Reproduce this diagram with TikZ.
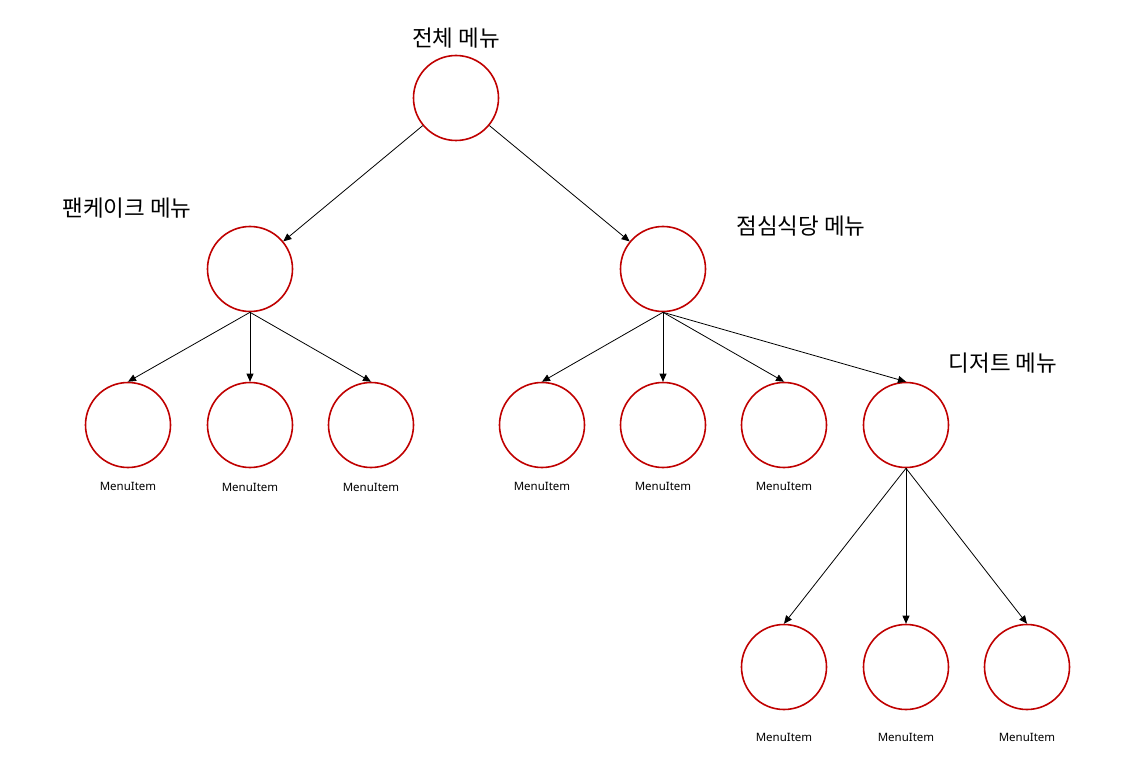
\documentclass[tikz,border=0pt]{standalone}
\usepackage{fontspec}
\setmainfont{Noto Sans}
\newfontfamily\kr{Noto Sans CJK KR}
\usetikzlibrary{arrows.meta}
\definecolor{nodered}{HTML}{C00000}
\begin{document}
\begin{tikzpicture}[x=1pt,y=-1pt,
  menunode/.style={circle,draw=nodered,line width=1.6pt,minimum size=85pt,inner sep=0pt,fill=white},
  edge/.style={draw=black,line width=0.8pt,-{Triangle[length=8pt,width=7pt]}},
  krlabel/.style={font=\kr\fontsize{22.5}{26}\selectfont},
  itemlabel/.style={font=\fontsize{11.5}{14}\selectfont}]
\useasboundingbox[fill=white] (0,0) rectangle (1125,778);
\node[menunode] (root) at (456,98) {};
\node[menunode] (pan) at (250,269) {};
\node[menunode] (lunch) at (663,269) {};
\node[menunode] (p1) at (128,425) {};
\node[menunode] (p2) at (250,425) {};
\node[menunode] (p3) at (371,425) {};
\node[menunode] (l1) at (542,425) {};
\node[menunode] (l2) at (663,425) {};
\node[menunode] (l3) at (784,425) {};
\node[menunode] (des) at (906,425) {};
\node[menunode] (d1) at (784,667) {};
\node[menunode] (d2) at (906,667) {};
\node[menunode] (d3) at (1027,667) {};
\node[krlabel] (troot) at (456,38) {전체 메뉴};
\node[krlabel] (tpan) at (127,208) {팬케이크 메뉴};
\node[krlabel] (tlunch) at (801,226) {점심식당 메뉴};
\node[krlabel] (tdes) at (1003,363) {디저트 메뉴};
\node[itemlabel] (ip1) at (128,486) {MenuItem};
\node[itemlabel] (ip2) at (250,487) {MenuItem};
\node[itemlabel] (ip3) at (371,487) {MenuItem};
\node[itemlabel] (il1) at (542,486) {MenuItem};
\node[itemlabel] (il2) at (663,486) {MenuItem};
\node[itemlabel] (il3) at (784,486) {MenuItem};
\node[itemlabel] (id1) at (784,737) {MenuItem};
\node[itemlabel] (id2) at (906,737) {MenuItem};
\node[itemlabel] (id3) at (1027,737) {MenuItem};
\draw[edge] (root) -- (pan);
\draw[edge] (root) -- (lunch);
\foreach \c in {p1,p2,p3} \draw[edge] (pan.south) -- (\c.north);
\foreach \c in {l1,l2,l3,des} \draw[edge] (lunch.south) -- (\c.north);
\foreach \c in {d1,d2,d3} \draw[edge] (des.south) -- (\c.north);
\end{tikzpicture}
\end{document}
